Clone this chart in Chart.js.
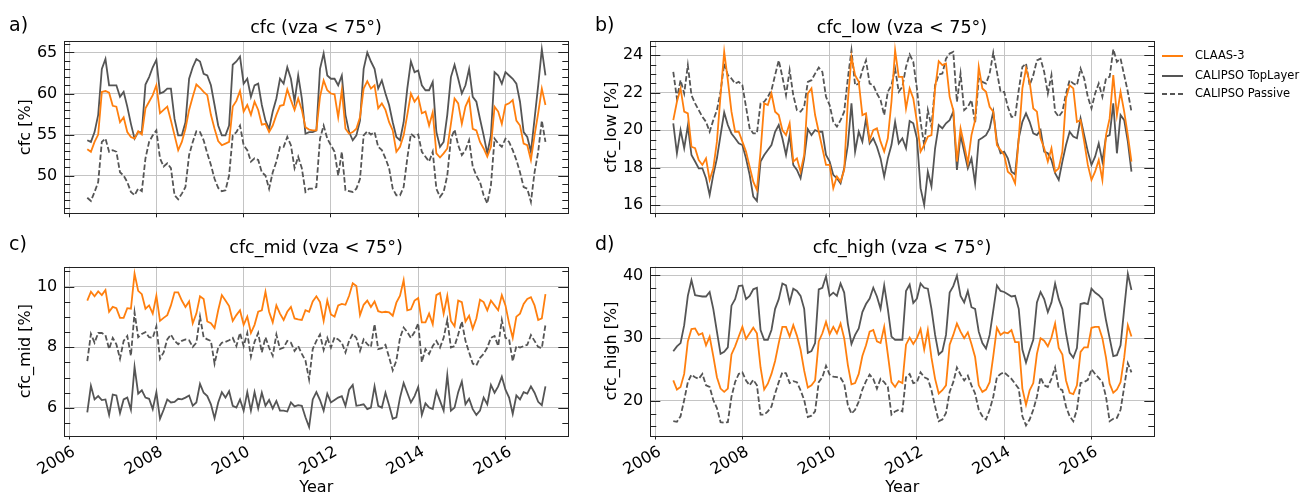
<!DOCTYPE html>
<html>
<head>
<meta charset="utf-8">
<script src="https://cdn.jsdelivr.net/npm/chart.js@4.4.1/dist/chart.umd.min.js"></script>
<style>
  body { margin: 0; background: #fff; }
  #fig { position: relative; width: 1305px; height: 499px; overflow: hidden;
         font-family: 'DejaVu Sans', sans-serif; color: #000; }
  #fig canvas { position: absolute; }
  .ttl { position: absolute; font-size: 17.5px; line-height: 18px; white-space: nowrap; transform: translateX(-50%); }
  .lbl { position: absolute; font-size: 19px; line-height: 18px; }
  .leg { position: absolute; left: 1162px; font-size: 11.5px; line-height: 14px; white-space: nowrap; }
  .leg span { display: inline-block; width: 21px; height: 2px; vertical-align: middle; margin-right: 12px; }
</style>
</head>
<body>
<div id="fig">
  <canvas id="cA" width="590" height="240" style="left:0;top:0"></canvas>
  <canvas id="cB" width="590" height="240" style="left:590px;top:0"></canvas>
  <canvas id="cC" width="590" height="249" style="left:0;top:250px"></canvas>
  <canvas id="cD" width="590" height="249" style="left:590px;top:250px"></canvas>

  <div class="lbl" style="left:9px;top:15px">a)</div>
  <div class="lbl" style="left:595px;top:15px">b)</div>
  <div class="lbl" style="left:9px;top:234px">c)</div>
  <div class="lbl" style="left:595px;top:234px">d)</div>

  <div class="ttl" style="left:316px;top:18px">cfc (vza &lt; 75°)</div>
  <div class="ttl" style="left:902px;top:18px">cfc_low (vza &lt; 75°)</div>
  <div class="ttl" style="left:316px;top:238px">cfc_mid (vza &lt; 75°)</div>
  <div class="ttl" style="left:902px;top:238px">cfc_high (vza &lt; 75°)</div>

  <div class="leg" style="top:48px"><span style="background:#ff7f0e"></span>CLAAS-3</div>
  <div class="leg" style="top:68px"><span style="background:#555"></span>CALIPSO TopLayer</div>
  <div class="leg" style="top:86px"><span style="background:repeating-linear-gradient(to right,#555 0 5.5px,transparent 5.5px 8px)"></span>CALIPSO Passive</div>
</div>

<script>
// monthly series, June 2006 - Dec 2016
const startYear = 2006, startMonth = 6, nMonths = 127;

// a) cfc
const cfcClaas = [53.2, 52.9, 54.1, 55.0, 60.2, 60.3, 60.1, 58.5, 58.4, 56.5,
  57.1, 55.3, 54.7, 54.5, 55.4, 55.0, 58.2, 59.0, 59.8, 61.0,
  57.6, 58.0, 58.4, 56.7, 54.9, 53.1, 54.1, 55.7, 58.0, 59.6,
  61.1, 60.7, 60.2, 59.8, 57.4, 55.7, 54.2, 53.7, 53.9, 54.1,
  58.4, 59.1, 60.3, 57.8, 58.6, 57.4, 59.0, 58.0, 56.2, 56.3,
  55.3, 56.1, 57.4, 58.5, 58.6, 60.5, 59.2, 58.0, 59.4, 58.0,
  55.9, 55.6, 55.5, 55.5, 59.6, 61.6, 60.4, 60.0, 59.9, 57.1,
  60.4, 55.7, 55.1, 55.3, 55.7, 57.1, 60.6, 61.5, 60.6, 61.0,
  58.2, 58.8, 58.0, 56.5, 55.5, 52.9, 53.5, 54.9, 57.4, 60.0,
  59.0, 59.6, 57.6, 57.8, 56.1, 57.7, 52.7, 52.2, 52.7, 53.3,
  56.3, 59.4, 58.8, 56.3, 58.4, 59.4, 55.7, 55.5, 54.1, 53.3,
  52.3, 53.5, 58.4, 57.8, 56.3, 58.6, 58.8, 59.2, 56.7, 56.1,
  53.9, 53.7, 51.9, 54.9, 57.6, 60.6, 58.6];
const cfcTop = [54.3, 54.1, 55.3, 57.4, 63.0, 64.2, 61.0, 61.0, 61.0, 59.6,
  60.2, 58.4, 56.3, 54.5, 55.3, 55.3, 61.1, 62.0, 63.2, 64.1,
  60.0, 60.2, 60.6, 60.6, 56.9, 54.9, 54.9, 56.5, 61.8, 63.2,
  64.2, 63.9, 62.4, 62.2, 61.0, 58.6, 56.1, 54.9, 54.9, 56.1,
  63.5, 63.9, 64.5, 61.2, 61.8, 59.6, 61.0, 61.2, 58.6, 56.7,
  55.7, 57.8, 59.4, 61.8, 61.2, 63.2, 61.8, 59.0, 62.2, 59.4,
  55.1, 55.3, 55.3, 55.5, 63.0, 64.9, 62.2, 61.8, 61.8, 61.0,
  62.2, 57.4, 55.3, 54.3, 54.9, 56.7, 63.0, 65.0, 63.9, 63.0,
  60.6, 61.6, 60.0, 58.6, 56.5, 54.7, 54.3, 56.5, 60.6, 63.9,
  62.6, 62.8, 61.0, 60.4, 60.4, 61.4, 55.3, 53.5, 54.1, 57.4,
  62.0, 63.5, 61.8, 60.0, 61.0, 63.0, 59.6, 59.0, 56.9, 54.9,
  52.7, 54.9, 62.6, 62.2, 61.2, 62.6, 62.2, 61.8, 61.2, 59.0,
  55.3, 54.7, 52.9, 56.9, 61.0, 65.4, 62.2];
const cfcPassive = [47.3, 46.9, 48.0, 49.2, 54.1, 54.5, 52.9, 53.1, 52.9, 50.4,
  50.0, 49.2, 48.0, 47.6, 48.4, 48.1, 52.1, 54.1, 54.9, 55.5,
  52.1, 51.1, 51.5, 50.9, 47.6, 47.1, 47.8, 48.6, 52.5, 54.1,
  55.4, 55.3, 54.3, 52.7, 51.3, 49.6, 48.5, 48.1, 48.2, 50.0,
  54.9, 55.3, 56.1, 53.7, 53.1, 51.7, 52.1, 51.9, 50.4, 50.0,
  48.4, 50.4, 51.7, 53.5, 53.5, 54.7, 53.7, 50.9, 52.3, 50.9,
  48.0, 48.4, 48.4, 48.6, 54.5, 56.1, 54.5, 53.7, 52.9, 50.0,
  52.9, 48.2, 48.1, 48.0, 48.4, 49.6, 54.9, 55.4, 55.0, 55.3,
  53.5, 53.1, 52.1, 50.9, 48.4, 47.6, 47.6, 48.6, 52.1, 55.1,
  54.7, 55.0, 52.9, 52.3, 51.7, 52.9, 48.4, 47.4, 48.0, 50.0,
  54.5, 55.6, 53.7, 52.5, 53.1, 54.3, 51.1, 50.0, 49.2, 47.6,
  46.6, 48.8, 54.5, 53.9, 53.5, 54.5, 54.1, 53.1, 51.9, 50.4,
  48.6, 48.4, 46.8, 50.4, 52.9, 56.7, 54.1];

// b) cfc_low
const lowClaas = [20.54, 21.52, 22.23, 20.99, 20.90, 19.12, 19.04, 18.41, 18.15, 18.50,
  17.35, 17.97, 19.39, 21.87, 24.18, 22.67, 20.99, 19.92, 19.92, 19.39,
  18.86, 18.06, 17.26, 16.82, 18.86, 21.43, 21.34, 21.96, 20.99, 20.81,
  20.01, 19.74, 20.37, 18.33, 18.50, 17.79, 18.68, 21.96, 22.23, 20.81,
  19.92, 19.04, 18.15, 18.15, 16.91, 17.53, 17.26, 17.88, 21.52, 23.91,
  22.94, 22.58, 20.81, 20.90, 19.48, 20.01, 20.10, 19.39, 18.86, 19.57,
  21.52, 24.27, 22.85, 22.85, 21.16, 22.23, 21.70, 20.45, 18.86, 19.21,
  19.66, 19.74, 22.23, 23.68, 23.47, 23.56, 21.78, 21.07, 18.33, 20.10,
  19.21, 18.24, 19.74, 20.54, 23.38, 22.23, 22.05, 21.25, 20.99, 19.21,
  18.95, 18.68, 17.79, 17.62, 17.17, 19.57, 22.23, 23.29, 22.58, 21.16,
  20.99, 19.57, 19.04, 18.33, 19.04, 17.79, 17.97, 18.86, 21.70, 22.40,
  22.23, 20.45, 20.54, 19.39, 18.15, 17.35, 17.79, 18.41, 17.35, 19.74,
  20.63, 22.94, 20.81, 22.05, 20.99, 19.74, 18.33];
const lowTop = [20.37, 18.77, 20.01, 19.04, 20.24, 18.68, 18.33, 17.97, 17.97, 17.44,
  16.55, 17.62, 18.50, 19.74, 20.95, 20.28, 19.83, 19.57, 19.30, 19.21,
  18.50, 17.62, 16.46, 16.23, 18.33, 18.68, 18.95, 19.21, 19.92, 20.28,
  19.57, 18.68, 19.74, 18.15, 17.88, 17.44, 18.50, 20.06, 19.74, 20.01,
  19.92, 19.92, 18.68, 18.33, 17.62, 17.44, 17.17, 17.97, 19.21, 21.43,
  18.86, 19.92, 19.39, 20.63, 19.30, 19.57, 19.12, 18.50, 17.53, 18.50,
  19.21, 20.45, 19.30, 19.57, 19.04, 20.49, 20.37, 19.57, 16.91, 16.02,
  17.79, 17.00, 19.04, 20.28, 20.10, 20.37, 20.54, 20.99, 17.88, 19.74,
  18.86, 17.97, 18.50, 17.17, 19.48, 19.60, 19.74, 20.10, 20.99, 19.39,
  18.77, 18.86, 18.50, 17.79, 17.65, 19.57, 20.45, 20.90, 20.45, 19.83,
  19.74, 20.01, 18.86, 18.77, 18.41, 17.71, 17.35, 18.33, 19.21, 19.92,
  19.66, 19.57, 20.63, 19.74, 18.86, 18.15, 18.59, 19.30, 18.33, 19.66,
  19.74, 21.43, 18.77, 20.81, 20.54, 19.39, 17.79];
const lowPassive = [23.11, 21.70, 22.67, 21.96, 23.47, 21.87, 21.43, 21.07, 20.72, 20.45,
  19.92, 20.54, 21.07, 22.05, 23.56, 22.94, 22.76, 22.49, 22.58, 22.40,
  21.25, 20.10, 19.83, 19.83, 21.43, 21.52, 21.78, 22.14, 22.94, 23.73,
  22.85, 21.87, 23.20, 21.87, 21.07, 20.99, 21.25, 22.58, 22.67, 23.02,
  23.34, 23.11, 21.78, 21.34, 20.45, 20.19, 20.54, 20.99, 22.76, 24.27,
  22.40, 22.49, 23.20, 23.73, 22.49, 22.40, 21.96, 21.61, 20.81, 22.05,
  22.40, 23.29, 22.05, 22.32, 23.38, 24.04, 23.65, 22.23, 20.45, 19.21,
  21.07, 20.19, 22.40, 22.97, 23.02, 23.82, 24.09, 24.18, 21.52, 23.02,
  21.07, 21.25, 21.61, 20.37, 22.76, 22.58, 22.49, 23.02, 24.14, 23.11,
  22.05, 22.05, 21.25, 20.72, 20.72, 22.14, 23.38, 23.56, 22.40, 22.94,
  23.73, 23.82, 23.11, 21.96, 22.94, 20.99, 20.72, 20.99, 21.96, 22.67,
  22.49, 22.40, 23.29, 22.76, 21.78, 21.16, 21.96, 22.49, 21.78, 22.76,
  22.85, 24.32, 23.65, 23.82, 22.94, 22.05, 20.99];

// c) cfc_mid
const midClaas = [9.54, 9.83, 9.68, 9.84, 9.72, 9.89, 9.17, 9.33, 9.29, 8.97,
  8.97, 9.29, 9.27, 10.43, 9.86, 9.75, 9.27, 9.38, 9.11, 9.70,
  8.87, 8.97, 9.06, 9.38, 9.81, 9.81, 9.54, 9.33, 9.51, 8.79,
  9.11, 9.68, 9.59, 8.85, 8.79, 8.63, 9.22, 9.72, 9.54, 9.36,
  8.87, 9.06, 9.22, 8.74, 9.01, 8.47, 8.74, 9.17, 9.22, 9.83,
  9.17, 8.82, 9.38, 9.11, 8.90, 9.17, 9.33, 8.95, 8.92, 8.90,
  9.22, 9.17, 9.51, 9.68, 9.49, 8.87, 9.54, 9.08, 9.01, 9.38,
  9.43, 9.40, 9.70, 10.11, 10.02, 9.06, 9.40, 9.54, 9.33, 9.51,
  9.19, 9.15, 9.17, 9.15, 9.04, 9.47, 9.70, 10.21, 9.22, 9.25,
  9.54, 9.62, 8.82, 8.82, 9.11, 8.76, 9.72, 9.79, 9.11, 9.70,
  8.87, 8.69, 9.54, 9.49, 8.85, 9.04, 8.61, 8.95, 9.57, 9.49,
  9.22, 9.54, 9.38, 9.22, 9.72, 9.38, 8.79, 8.31, 9.01, 9.11,
  9.43, 9.59, 9.65, 9.38, 8.90, 8.95, 9.75];
const midTop = [5.85, 6.73, 6.28, 6.39, 6.26, 6.28, 5.77, 6.44, 6.41, 5.83,
  6.28, 6.34, 5.94, 7.35, 6.47, 6.58, 6.34, 6.30, 5.96, 6.52,
  5.64, 5.94, 6.28, 6.18, 6.20, 6.30, 6.28, 6.34, 6.41, 6.07,
  6.18, 6.79, 6.50, 6.39, 6.12, 5.66, 6.18, 6.52, 6.34, 6.55,
  6.07, 6.01, 6.28, 5.91, 6.52, 5.91, 6.52, 5.98, 6.50, 6.07,
  6.26, 5.98, 6.23, 5.91, 5.91, 5.88, 6.18, 6.05, 6.09, 6.07,
  5.69, 5.37, 6.28, 6.52, 6.26, 5.91, 6.47, 6.18, 6.26, 6.34,
  6.39, 6.07, 6.60, 6.76, 6.07, 6.09, 6.12, 5.96, 6.01, 6.71,
  6.07, 6.01, 6.50, 6.09, 5.64, 5.69, 6.34, 6.82, 6.50, 6.18,
  6.39, 6.69, 5.77, 6.15, 6.01, 5.96, 6.55, 6.23, 5.91, 7.08,
  5.91, 6.01, 6.52, 6.87, 6.12, 6.30, 5.96, 5.77, 5.91, 6.34,
  6.12, 6.76, 6.50, 6.71, 7.03, 6.60, 6.34, 5.80, 6.41, 6.28,
  6.52, 6.47, 6.71, 6.50, 6.20, 6.09, 6.71];
const midPassive = [7.54, 8.44, 8.15, 8.47, 8.47, 8.40, 7.94, 8.31, 8.10, 7.62,
  8.21, 8.37, 7.72, 9.15, 8.33, 8.44, 8.50, 8.33, 8.31, 8.69,
  7.62, 7.83, 8.26, 8.42, 8.21, 8.10, 8.21, 8.26, 8.23, 8.01,
  8.15, 9.01, 8.33, 8.26, 8.21, 7.46, 7.99, 8.15, 8.18, 8.23,
  8.31, 8.04, 8.47, 8.04, 8.47, 7.69, 8.18, 8.47, 7.83, 8.33,
  7.99, 7.72, 8.42, 7.94, 7.99, 8.21, 8.15, 7.88, 8.04, 7.78,
  7.56, 6.94, 7.94, 8.21, 8.42, 7.91, 8.31, 7.99, 8.33, 8.26,
  8.15, 7.83, 8.21, 8.44, 8.31, 7.88, 8.26, 8.10, 8.01, 8.76,
  7.94, 7.97, 8.08, 7.67, 7.24, 7.56, 8.31, 8.65, 8.50, 8.31,
  8.50, 8.79, 7.51, 7.94, 7.78, 8.04, 8.21, 7.99, 8.31, 8.90,
  7.99, 8.04, 8.42, 8.85, 8.21, 7.83, 7.46, 7.40, 7.65, 7.78,
  7.99, 8.31, 8.37, 8.04, 8.90, 8.31, 8.26, 7.54, 8.04, 7.99,
  8.04, 8.08, 8.40, 8.21, 8.01, 7.97, 8.74];

// d) cfc_high
const highClaas = [23.27, 21.82, 22.23, 24.31, 29.49, 31.45, 31.55, 30.52, 30.78, 28.86,
  30.26, 27.15, 23.79, 21.97, 21.45, 21.97, 27.41, 28.70, 30.26, 31.81,
  29.89, 30.78, 31.66, 30.78, 25.33, 21.82, 22.75, 24.31, 26.37, 29.22,
  31.81, 31.81, 30.26, 32.07, 30.41, 28.19, 24.82, 22.13, 22.49, 23.27,
  29.49, 30.78, 32.59, 30.63, 31.81, 30.78, 32.33, 30.00, 25.75, 22.65,
  22.85, 24.31, 27.15, 28.86, 31.04, 31.30, 29.49, 29.22, 31.81, 27.41,
  23.00, 22.23, 23.16, 22.85, 28.96, 30.10, 29.07, 30.00, 31.45, 28.19,
  31.30, 26.89, 23.52, 21.19, 21.71, 22.49, 28.96, 30.52, 32.33, 31.04,
  30.00, 30.93, 29.07, 27.00, 22.49, 21.45, 21.82, 23.00, 27.15, 31.66,
  30.52, 30.93, 30.78, 31.30, 29.38, 29.38, 21.97, 19.38, 21.71, 22.85,
  27.51, 30.00, 29.59, 28.70, 30.10, 32.33, 28.44, 27.41, 23.27, 21.30,
  21.09, 22.49, 27.82, 28.55, 28.55, 31.66, 31.81, 31.81, 30.00, 26.89,
  22.75, 21.30, 21.82, 23.00, 26.89, 32.07, 30.26];
const highTop = [27.93, 28.70, 29.22, 32.07, 36.74, 39.23, 36.84, 36.74, 36.64, 36.64,
  37.36, 34.67, 31.04, 27.51, 27.82, 28.55, 35.18, 36.22, 38.29, 38.40,
  36.22, 36.74, 37.78, 38.03, 31.30, 29.74, 29.74, 31.30, 34.67, 36.22,
  38.71, 38.40, 35.70, 37.88, 37.52, 36.74, 34.67, 27.67, 27.93, 29.22,
  37.78, 38.03, 39.85, 36.74, 37.26, 36.74, 38.71, 37.26, 32.33, 29.07,
  30.52, 31.56, 34.15, 35.44, 36.32, 38.03, 36.64, 34.67, 38.40, 34.67,
  30.26, 29.74, 29.74, 29.74, 37.52, 38.55, 35.60, 36.32, 38.71, 38.03,
  37.88, 34.67, 30.52, 27.41, 27.93, 30.52, 37.26, 38.29, 39.95, 36.74,
  35.70, 37.52, 34.93, 34.67, 31.04, 29.22, 28.34, 30.52, 34.41, 38.40,
  37.52, 37.36, 37.00, 36.64, 36.74, 34.67, 28.19, 26.11, 28.03, 29.74,
  35.70, 37.36, 36.22, 34.15, 35.70, 38.71, 36.22, 34.67, 30.78, 27.67,
  26.89, 28.44, 35.44, 35.60, 35.44, 37.88, 37.26, 36.84, 36.22, 32.85,
  30.00, 27.15, 27.30, 28.86, 34.67, 40.26, 37.67];
const highPassive = [16.78, 16.68, 17.56, 20.15, 23.00, 24.19, 23.78, 23.52, 24.30, 22.49,
  22.23, 20.15, 18.86, 16.63, 16.52, 16.63, 20.67, 23.00, 24.30, 24.56,
  23.27, 22.49, 23.37, 22.49, 17.82, 17.82, 18.34, 19.11, 21.19, 23.00,
  24.56, 24.40, 22.85, 23.16, 23.00, 21.71, 20.15, 17.45, 17.66, 18.34,
  23.00, 23.78, 25.59, 24.19, 23.88, 23.78, 23.67, 22.75, 19.38, 17.97,
  18.60, 19.90, 21.82, 23.16, 24.19, 23.52, 21.97, 23.52, 23.00, 22.23,
  17.82, 18.34, 18.60, 18.34, 23.78, 24.30, 22.85, 23.00, 24.56, 23.78,
  23.52, 21.71, 19.11, 16.78, 17.04, 18.08, 21.45, 23.00, 25.33, 24.19,
  23.26, 24.04, 22.49, 21.19, 18.60, 17.56, 17.04, 18.60, 20.67, 23.78,
  24.30, 24.56, 24.04, 23.52, 22.75, 21.97, 17.56, 16.11, 17.04, 18.60,
  20.67, 23.78, 22.49, 22.23, 23.52, 25.33, 21.97, 21.71, 19.11, 17.56,
  16.78, 18.60, 22.85, 23.00, 23.37, 25.07, 24.30, 23.67, 23.00, 20.67,
  16.78, 17.15, 17.30, 18.60, 22.23, 25.98, 24.56];

// decimal year of each month
const time = Array.from({length: nMonths}, (_, i) => startYear + (startMonth - 1 + i) / 12);

const ORANGE = '#ff7f0e';
const GREY = '#555555';

Chart.defaults.font.family = "'DejaVu Sans', sans-serif";
Chart.defaults.font.size = 16;
Chart.defaults.color = '#000';

// frame round the plot area + inward y ticks on both sides
const frameTicks = {
  id: 'frameTicks',
  afterDatasetsDraw(chart, args, opts) {
    const { ctx, chartArea: a } = chart;
    const y = chart.scales.y;
    ctx.save();
    ctx.strokeStyle = '#222';
    ctx.lineWidth = 1;
    const k0 = Math.ceil(y.min / opts.minor - 1e-9);
    const k1 = Math.floor(y.max / opts.minor + 1e-9);
    for (let k = k0; k <= k1; k++) {
      const v = k * opts.minor;
      const isMajor = Math.abs(v / opts.major - Math.round(v / opts.major)) < 1e-6;
      const len = isMajor ? 10 : 6;
      const py = Math.round(y.getPixelForValue(v)) + 0.5;
      ctx.beginPath();
      ctx.moveTo(a.left, py); ctx.lineTo(a.left + len, py);
      ctx.moveTo(a.right, py); ctx.lineTo(a.right - len, py);
      ctx.stroke();
    }
    ctx.strokeRect(Math.round(a.left) + 0.5, Math.round(a.top) + 0.5,
                   Math.round(a.right - a.left), Math.round(a.bottom - a.top));
    ctx.restore();
  }
};

function line(vals, color, dash) {
  return {
    data: vals.map((v, i) => ({ x: time[i], y: v })),
    borderColor: color,
    borderWidth: 1.8,
    borderDash: dash || [],
    pointRadius: 0,
    fill: false,
    tension: 0
  };
}

function panel(id, p) {
  new Chart(document.getElementById(id), {
    type: 'line',
    data: {
      datasets: [
        line(p.claas, ORANGE),
        line(p.top, GREY),
        line(p.passive, GREY, [5.5, 2.4])
      ]
    },
    plugins: [frameTicks],
    options: {
      responsive: false,
      animation: false,
      devicePixelRatio: 1,
      layout: { padding: { top: p.padTop, right: p.padRight, left: 0, bottom: 0 } },
      plugins: {
        legend: { display: false },
        tooltip: { enabled: false },
        frameTicks: { major: p.major, minor: p.minor }
      },
      scales: {
        x: {
          type: 'linear',
          min: 2005.89,
          max: 2017.44,
          afterFit: s => { s.height = p.xHeight; },
          border: { display: false },
          grid: { color: '#c4c4c4', lineWidth: 1, drawTicks: true, tickLength: 4, tickColor: '#222' },
          ticks: {
            display: p.showX,
            stepSize: 2,
            includeBounds: false,
            autoSkip: false,
            minRotation: 30,
            maxRotation: 30,
            padding: 3,
            labelOffset: 5,
            callback: v => String(v)
          },
          title: { display: p.showX, text: 'Year', padding: { top: 0, bottom: 2 } }
        },
        y: {
          min: p.yMin,
          max: p.yMax,
          afterFit: s => { s.width = p.yWidth; },
          border: { display: false },
          grid: { color: '#c4c4c4', lineWidth: 1, drawTicks: false },
          ticks: { stepSize: p.major, includeBounds: false, padding: 7, callback: v => String(v) },
          title: { display: true, text: p.yTitle, padding: { top: p.titlePad, bottom: 0 } }
        }
      }
    }
  });
}

panel('cA', { claas: cfcClaas, top: cfcTop, passive: cfcPassive,
  yMin: 45.4, yMax: 66.4, major: 5, minor: 1, yTitle: 'cfc [%]',
  showX: false, yWidth: 64.3, padRight: 21.7, padTop: 41, xHeight: 26.7, titlePad: 16 });
panel('cB', { claas: lowClaas, top: lowTop, passive: lowPassive,
  yMin: 15.57, yMax: 24.76, major: 2, minor: 0.5, yTitle: 'cfc_low [%]',
  showX: false, yWidth: 60.3, padRight: 25.7, padTop: 41, xHeight: 26.7, titlePad: 12 });
panel('cC', { claas: midClaas, top: midTop, passive: midPassive,
  yMin: 5.09, yMax: 10.66, major: 2, minor: 0.5, yTitle: 'cfc_mid [%]',
  showX: true, yWidth: 64.3, padRight: 21.7, padTop: 11.7, xHeight: 63.5, titlePad: 16 });
panel('cD', { claas: highClaas, top: highTop, passive: highPassive,
  yMin: 14.5, yMax: 41.4, major: 10, minor: 2, yTitle: 'cfc_high [%]',
  showX: true, yWidth: 60.3, padRight: 25.7, padTop: 11.7, xHeight: 63.5, titlePad: 12 });
</script>
</body>
</html>
